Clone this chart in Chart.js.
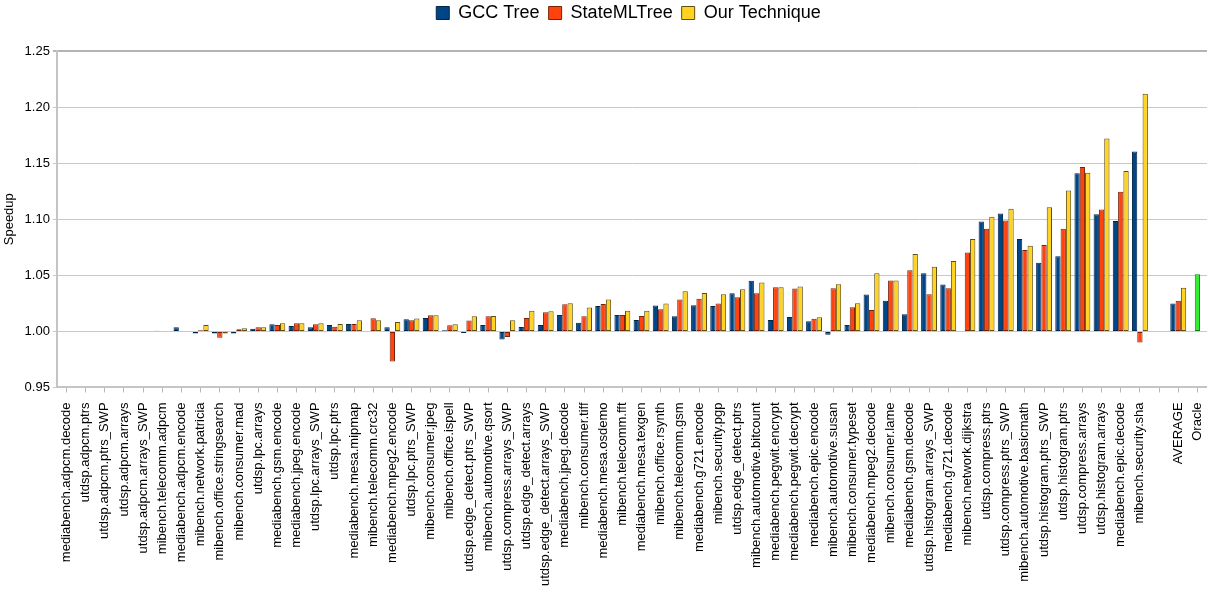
<!DOCTYPE html>
<html>
<head>
<meta charset="utf-8">
<script src="https://cdn.jsdelivr.net/npm/chart.js@4/dist/chart.umd.min.js"></script>
<style>
    html, body { margin: 0; padding: 0; background: #fff; }
    #wrap { width: 1207px; height: 600px; position: relative; }
</style>
</head>
<body>
<div id="wrap"><canvas id="speedup-chart"></canvas></div>
<script>
const categories = [
    "mediabench.adpcm.decode", "utdsp.adpcm.ptrs", "utdsp.adpcm.ptrs_SWP", "utdsp.adpcm.arrays",
    "utdsp.adpcm.arrays_SWP", "mibench.telecomm.adpcm", "mediabench.adpcm.encode", "mibench.network.patricia",
    "mibench.office.stringsearch", "mibench.consumer.mad", "utdsp.lpc.arrays", "mediabench.gsm.encode",
    "mediabench.jpeg.encode", "utdsp.lpc.arrays_SWP", "utdsp.lpc.ptrs", "mediabench.mesa.mipmap",
    "mibench.telecomm.crc32", "mediabench.mpeg2.encode", "utdsp.lpc.ptrs_SWP", "mibench.consumer.jpeg",
    "mibench.office.ispell", "utdsp.edge_detect.ptrs_SWP", "mibench.automotive.qsort", "utdsp.compress.arrays_SWP",
    "utdsp.edge_detect.arrays", "utdsp.edge_detect.arrays_SWP", "mediabench.jpeg.decode", "mibench.consumer.tiff",
    "mediabench.mesa.osdemo", "mibench.telecomm.fft", "mediabench.mesa.texgen", "mibench.office.rsynth",
    "mibench.telecomm.gsm", "mediabench.g721.encode", "mibench.security.pgp", "utdsp.edge_detect.ptrs",
    "mibench.automotive.bitcount", "mediabench.pegwit.encrypt", "mediabench.pegwit.decrypt", "mediabench.epic.encode",
    "mibench.automotive.susan", "mibench.consumer.typeset", "mediabench.mpeg2.decode", "mibench.consumer.lame",
    "mediabench.gsm.decode", "utdsp.histogram.arrays_SWP", "mediabench.g721.decode", "mibench.network.dijkstra",
    "utdsp.compress.ptrs", "utdsp.compress.ptrs_SWP", "mibench.automotive.basicmath", "utdsp.histogram.ptrs_SWP",
    "utdsp.histogram.ptrs", "utdsp.compress.arrays", "utdsp.histogram.arrays", "mediabench.epic.decode",
    "mibench.security.sha", "", "AVERAGE", "Oracle"
];

const gccTree = [
    1.0, 1.0, 1.0, 1.0, 1.0, 1.0006, 1.0036, 0.998, 0.998, 0.998,
    1.0024, 1.0063, 1.0048, 1.0036, 1.0057, 1.0066, 1.0, 1.0036, 1.0108, 1.0119,
    1.001, 0.9985, 1.0057, 0.9928, 1.0039, 1.0057, 1.0146, 1.0078, 1.0227, 1.0146,
    1.0101, 1.023, 1.0134, 1.0233, 1.0227, 1.034, 1.0451, 1.0101, 1.0128, 1.009,
    0.997, 1.0057, 1.0328, 1.0272, 1.0152, 1.0519, 1.0418, 1.0, 1.0979, 1.1051,
    1.0824, 1.0612, 1.0669, 1.1409, 1.1045, 1.0985, 1.1603, null, 1.0248, null
];
const stateMLTree = [
    1.0, 1.0, 1.0, 1.0, 1.0, 1.0, 1.0, 1.001, 0.9943, 1.0018,
    1.0036, 1.0057, 1.0072, 1.0063, 1.0042, 1.0066, 1.0116, 0.9731, 1.01, 1.0143,
    1.0054, 1.0096, 1.0134, 0.9949, 1.0119, 1.017, 1.0242, 1.0134, 1.0245, 1.0146,
    1.0137, 1.0197, 1.0284, 1.029, 1.0248, 1.0304, 1.034, 1.0394, 1.0382, 1.0113,
    1.0385, 1.0215, 1.0191, 1.0454, 1.0546, 1.0331, 1.0385, 1.0704, 1.0916, 1.0988,
    1.0725, 1.077, 1.0916, 1.1466, 1.1087, 1.1245, 0.9901, null, 1.0272, null
];
const ourTechnique = [
    1.0, 1.0, 1.0, 1.0, 1.0, 1.0, 1.0, 1.0057, 0.998, 1.0027,
    1.0036, 1.0072, 1.0072, 1.0072, 1.0066, 1.0099, 1.0099, 1.0084, 1.0114, 1.0143,
    1.0063, 1.0134, 1.0137, 1.0099, 1.0185, 1.0179, 1.0251, 1.0212, 1.0284, 1.0185,
    1.0185, 1.0248, 1.0358, 1.0343, 1.0331, 1.0376, 1.0436, 1.0394, 1.04, 1.0125,
    1.0421, 1.0251, 1.0519, 1.0454, 1.069, 1.0576, 1.0627, 1.0824, 1.1021, 1.1093,
    1.0764, 1.1107, 1.1257, 1.1415, 1.172, 1.143, 1.2119, null, 1.0388, null
];
// oracle is a single bar, drawn in the middle slot of its group
const oracle = [{ x: "Oracle", y: 1.051 }];

const yTicks = [0.95, 1.0, 1.05, 1.1, 1.15, 1.2, 1.25];

const FONT = "'Liberation Sans', Arial, sans-serif";

function barSet(label, data, fill, edge, stack) {
    return {
        label,
        data,
        backgroundColor: fill,
        borderColor: edge,
        borderWidth: 1,
        borderSkipped: false,
        base: 1,
        stack,
        categoryPercentage: 0.83,
        barPercentage: 1.0,
    };
}

// extra room under the legend, and nudge it to sit over the plot like the original
const legendSpacer = {
    id: "legendSpacer",
    beforeInit(chart) {
        const fit = chart.legend.fit;
        chart.legend.fit = function () {
            fit.call(this);
            this.height += 19;
        };
    },
    afterLayout(chart) {
        chart.legend.left += 24;
        chart.legend.right += 24;
    },
};

new Chart(document.getElementById("speedup-chart"), {
    type: "bar",
    data: {
        labels: categories,
        datasets: [
            barSet("GCC Tree", gccTree, "#004586", "#00254a", "g"),
            barSet("StateMLTree", stateMLTree, "#ff420e", "#7a2208", "s"),
            barSet("Our Technique", ourTechnique, "#ffd320", "#5e4e12", "o"),
            barSet("Oracle", oracle, "#33ee33", "#1c7a1c", "s"),
        ],
    },
    plugins: [legendSpacer],
    options: {
        responsive: true,
        maintainAspectRatio: false,
        animation: false,
        layout: { padding: { top: 0, left: 2, right: 0, bottom: 4 } },
        plugins: {
            legend: {
                position: "top",
                labels: {
                    filter: (item) => item.datasetIndex < 3,
                    generateLabels: (chart) =>
                        Chart.defaults.plugins.legend.labels.generateLabels(chart).map((item, i) => {
                            if (i < 2) item.text += " ";
                            return item;
                        }),
                    font: { family: FONT, size: 18 },
                    color: "#000",
                    boxWidth: 13,
                    boxHeight: 13,
                    padding: 4,
                },
            },
            tooltip: { enabled: false },
        },
        scales: {
            x: {
                ticks: {
                    autoSkip: false,
                    minRotation: 90,
                    maxRotation: 90,
                    padding: 10,
                    color: "#000",
                    font: { family: FONT, size: 13 },
                },
                grid: {
                    offset: false,
                    drawOnChartArea: false,
                    tickLength: 5,
                    color: "#b8b8b8",
                },
                border: { color: "#c4c4c4", width: 2 },
                afterFit: (axis) => {
                    axis.paddingLeft = 0;
                    axis.paddingRight = 0;
                },
            },
            y: {
                stacked: false,
                min: 0.95,
                max: 1.25,
                afterBuildTicks: (axis) => {
                    axis.ticks = yTicks.map((v) => ({ value: v }));
                },
                ticks: {
                    padding: 3,
                    color: "#000",
                    font: { family: FONT, size: 13 },
                    callback: (v) => Number(v).toFixed(2),
                },
                grid: {
                    color: (ctx) => (ctx.tick && ctx.tick.value === 1.25 ? "#b4b4b4" : "#c8c8c8"),
                    lineWidth: (ctx) => (ctx.tick && ctx.tick.value === 1.25 ? 2 : 1),
                    tickLength: 4,
                },
                border: { color: "#c4c4c4", width: 2 },
                title: {
                    display: true,
                    text: "Speedup",
                    color: "#000",
                    font: { family: FONT, size: 13 },
                    padding: { top: 0, bottom: 4 },
                },
            },
        },
    },
});
</script>
</body>
</html>
